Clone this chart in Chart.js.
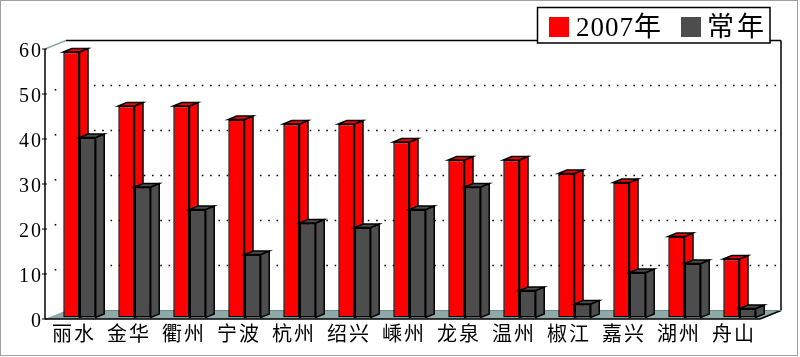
<!DOCTYPE html>
<html><head><meta charset="utf-8">
<script src="https://cdn.jsdelivr.net/npm/chart.js@4.4.0/dist/chart.umd.min.js"></script>
<style>html,body{margin:0;padding:0;background:#fff}#wrap{width:800px;height:357px;position:relative}</style>
</head><body><div id="wrap"><canvas id="c" width="800" height="357"></canvas></div>
<script>
const categories = ['丽水','金华','衢州','宁波','杭州','绍兴','嵊州','龙泉','温州','椒江','嘉兴','湖州','舟山'];
const values2007 = [59,47,47,44,43,43,39,35,35,32,30,18,13];
const valuesNormal = [40,29,24,14,21,20,24,29,6,3,10,12,2];
const seriesNames = ['2007年','常年'];
const seriesColors = ['#FF0000','#4D4D4D'];
const yTicks = [0,10,20,30,40,50,60];

const CJK = '"Liberation Serif","Noto Sans CJK SC"';
const FRONT = {x:-7, y:1.5};      // front plane relative to bar plane
const DEPTH = {x:21, y:-8.5};     // full depth of the box
const BAR_DEPTH = {x:8.5, y:-3.5};
const EDGE = 1.5;

function poly(ctx, pts, fill, stroke, w){
  ctx.beginPath();
  ctx.moveTo(pts[0][0], pts[0][1]);
  for (let i=1;i<pts.length;i++) ctx.lineTo(pts[i][0], pts[i][1]);
  ctx.closePath();
  if (fill){ctx.fillStyle=fill; ctx.fill();}
  if (stroke){ctx.strokeStyle=stroke; ctx.lineWidth=w||1; ctx.lineJoin='miter'; ctx.stroke();}
}
function line(ctx, x1,y1,x2,y2,color,dash,width){
  ctx.save();
  ctx.beginPath();
  ctx.strokeStyle=color; ctx.lineWidth=width||1;
  if (dash) ctx.setLineDash(dash);
  ctx.moveTo(x1,y1); ctx.lineTo(x2,y2); ctx.stroke();
  ctx.restore();
}

const threeD = {
  id:'threeD',
  beforeDraw(chart){ chart.ctx.letterSpacing='2px'; },
  beforeDatasetsDraw(chart){
    const ctx=chart.ctx, a=chart.chartArea, ys=chart.scales.y;
    const L=a.left+FRONT.x, R=a.right+FRONT.x;
    const B=ys.getPixelForValue(0)+FRONT.y, T=ys.getPixelForValue(60)+FRONT.y;
    const dx=DEPTH.x, dy=DEPTH.y;
    ctx.save();
    poly(ctx, [[L+dx,T+dy],[R+dx,T+dy],[R+dx,B+dy],[L+dx,B+dy]], '#FFFFFF', null);
    line(ctx, L+dx, T+dy, R+dx, T+dy, '#000', null, 1.5);
    line(ctx, R+dx, T+dy, R+dx, B+dy, '#000', null, 1.5);
    poly(ctx, [[L,T],[L+dx,T+dy],[L+dx,B+dy],[L,B]], '#FFFFFF', null);
    line(ctx, L, T, L+dx, T+dy, '#8FA8A8', null, 1.5);
    yTicks.forEach(v=>{
      if (v<=0 || v>=60) return;
      const y=ys.getPixelForValue(v)+FRONT.y;
      line(ctx, L+dx+3, y+dy, R+dx-2, y+dy, '#000', [1.6,6.7], 1.6);
      ctx.save(); ctx.fillStyle='#000';
      ctx.fillRect(L+dx/2-0.8, y+dy/2-0.8, 1.6, 1.6);
      ctx.restore();
    });
    poly(ctx, [[L,B],[R,B],[R+dx,B+dy],[L+dx,B+dy]], '#8FA8A8', null);
    line(ctx, L, B, R, B, '#000', null, 1.5);
    line(ctx, R, B, R+dx, B+dy, '#000', null, 1.5);
    line(ctx, L+dx, B+dy, R+dx, B+dy, '#6F8888');
    line(ctx, L, T, L, B, '#000', null, 1.5);
    yTicks.forEach(v=>{
      const y=ys.getPixelForValue(v)+FRONT.y;
      line(ctx, L-3, y, L+2, y, '#000');
    });
    ctx.restore();
  },
  afterDatasetsDraw(chart){
    const ctx=chart.ctx;
    ctx.save();
    chart.data.datasets.forEach((ds, i)=>{
      const meta=chart.getDatasetMeta(i);
      meta.data.forEach(el=>{
        if (i>0) el.draw(ctx);
        const p=el.getProps(['x','y','base','width'], true);
        const x0=p.x-p.width/2, x1=p.x+p.width/2, top=p.y, base=p.base;
        const bx=BAR_DEPTH.x, by=BAR_DEPTH.y;
        poly(ctx, [[x1,top],[x1+bx,top+by],[x1+bx,base+by],[x1,base]], ds.backgroundColor, '#000', EDGE);
        poly(ctx, [[x0,top],[x1,top],[x1+bx,top+by],[x0+bx,top+by]], ds.backgroundColor, '#000', EDGE);
      });
    });
    ctx.restore();
  },
  afterDraw(chart){
    const ctx=chart.ctx;
    ctx.save();
    ctx.fillStyle='#FFF';
    ctx.fillRect(537,7,233,36);
    ctx.strokeStyle='#000'; ctx.lineWidth=1.5;
    ctx.strokeRect(537.5,7.5,232.5,35.5);
    ctx.font='27px '+CJK;
    ctx.textBaseline='alphabetic';
    ctx.fillStyle=seriesColors[0]; ctx.fillRect(549,17,20,20);
    ctx.letterSpacing='1px';
    ctx.fillStyle='#000'; ctx.fillText(seriesNames[0], 576, 36);
    ctx.fillStyle=seriesColors[1]; ctx.fillRect(681,17,20,20);
    ctx.letterSpacing='3px';
    ctx.fillStyle='#000'; ctx.fillText(seriesNames[1], 707, 36);
    ctx.letterSpacing='0px';
    ctx.strokeStyle='#A0A0A0'; ctx.lineWidth=1;
    ctx.strokeRect(0.5,0.5,797,355);
    ctx.restore();
  }
};

new Chart(document.getElementById('c'), {
  type:'bar',
  data:{
    labels:categories,
    datasets:[
      {label:seriesNames[0], data:values2007, backgroundColor:seriesColors[0], borderColor:'#000', borderWidth:EDGE, borderSkipped:false, categoryPercentage:0.59, barPercentage:1},
      {label:seriesNames[1], data:valuesNormal, backgroundColor:seriesColors[1], borderColor:'#000', borderWidth:EDGE, borderSkipped:false, categoryPercentage:0.59, barPercentage:1}
    ]
  },
  options:{
    responsive:false, animation:false, devicePixelRatio:1,
    layout:{padding:{left:0,right:33,top:47.5,bottom:0}},
    plugins:{legend:{display:false}, tooltip:{enabled:false}},
    scales:{
      x:{
        grid:{display:false, drawTicks:false}, border:{display:false},
        ticks:{font:{family:CJK, size:20}, color:'#000', padding:6, labelOffset:-5.5, maxRotation:0, autoSkip:false},
        afterFit(s){ s.height=39.5; }
      },
      y:{
        min:0, max:60,
        afterBuildTicks(s){ s.ticks = yTicks.map(v=>({value:v})); },
        grid:{display:false, drawTicks:false}, border:{display:false},
        ticks:{font:{family:'"Liberation Serif"', size:20}, color:'#000', padding:9, labelOffset:4.5},
        afterFit(s){ s.width=52; }
      }
    }
  },
  plugins:[threeD]
});
</script></body></html>
